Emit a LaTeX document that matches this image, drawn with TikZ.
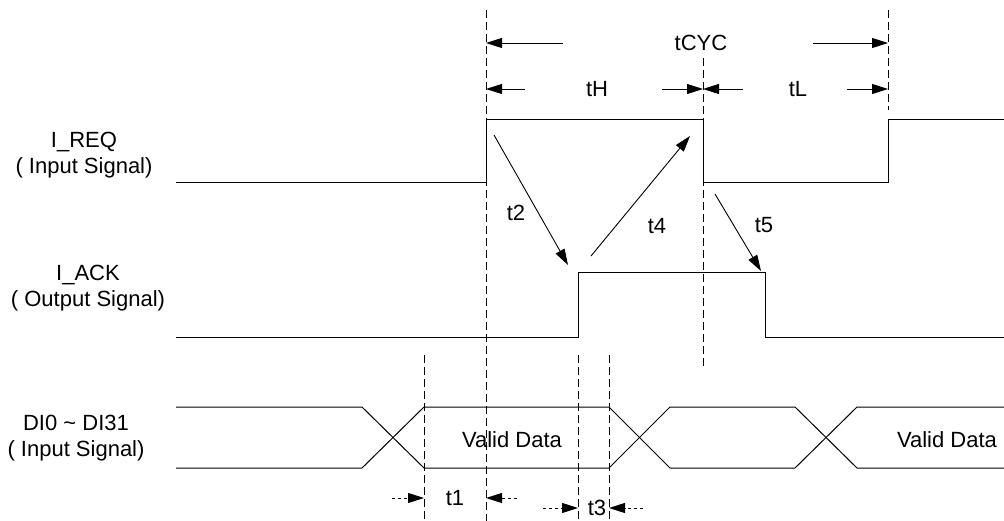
\documentclass[tikz,border=0pt]{standalone}
\usepackage{fontspec}
\setmainfont{Liberation Sans}
\usetikzlibrary{arrows.meta}
\begin{document}
\begin{tikzpicture}[x=1pt,y=-1pt,
  sig/.style={line width=1pt, line join=miter},
  guide/.style={line width=0.9pt, dash pattern=on 8pt off 4pt},
  dimarrow/.style={line width=0.9pt, -{Triangle[length=16pt,width=10pt]}},
  dimdot/.style={dimarrow, dash pattern=on 3pt off 3pt},
  lbl/.style={font=\fontsize{22}{25.5}\selectfont, inner sep=0pt},
  sname/.style={lbl, align=center}]
\useasboundingbox (0,0) rectangle (1004,521);

% signal names
\node[sname] (nreq) at (84,155) {I\_REQ\\( Input Signal)};
\node[sname] (nack) at (88,288) {I\_ACK\\( Output Signal)};
\node[sname] (ndat) at (76,438) {DI0 \textasciitilde{} DI31\\( Input Signal)};

% waveforms
\draw[sig] (176,183) -- (486,183) -- (486,120) -- (703,120) -- (703,183) -- (888,183) -- (888,120) -- (1004,120);
\draw[sig] (176,337) -- (578,337) -- (578,273) -- (765,273) -- (765,337) -- (1004,337);
\draw[sig] (176,407) -- (362,407) -- (424,468) -- (609,468) -- (670,407) -- (795,407) -- (857,468) -- (1004,468);
\draw[sig] (176,468) -- (362,468) -- (424,407) -- (609,407) -- (670,468) -- (795,468) -- (857,407) -- (1004,407);

% guide lines
\coordinate (ga1) at (486,10);  \coordinate (ga2) at (486,521);
\coordinate (gb1) at (703,58);  \coordinate (gb2) at (703,368);
\coordinate (gc1) at (888,10);  \coordinate (gc2) at (888,110);
\coordinate (gd1) at (424,355); \coordinate (gd2) at (424,521);
\coordinate (ge1) at (578,355); \coordinate (ge2) at (578,521);
\coordinate (gf1) at (609,355); \coordinate (gf2) at (609,521);
\draw[guide] (ga1) -- (ga2);
\draw[guide] (gb1) -- (gb2);
\draw[guide] (gc1) -- (gc2);
\draw[guide] (gd1) -- (gd2);
\draw[guide] (ge1) -- (ge2);
\draw[guide] (gf1) -- (gf2);

% tCYC
\node[lbl] (tcyc) at (701,43) {tCYC};
\coordinate (cyl) at (563,43); \coordinate (cylh) at (486,43);
\coordinate (cyr) at (813,43); \coordinate (cyrh) at (888,43);
\draw[dimarrow] (cyl) -- (cylh);
\draw[dimarrow] (cyr) -- (cyrh);

% tH, tL
\node[lbl] (th) at (597,89) {tH};
\node[lbl] (tl) at (798,89) {tL};
\coordinate (thl) at (525,89); \coordinate (thlh) at (486,89);
\coordinate (thr) at (662,89); \coordinate (thrh) at (703,89);
\coordinate (tll) at (743,89); \coordinate (tllh) at (703,89);
\coordinate (tlr) at (847,89); \coordinate (tlrh) at (888,89);
\draw[dimarrow] (thl) -- (thlh);
\draw[dimarrow] (thr) -- (thrh);
\draw[dimarrow] (tll) -- (tllh);
\draw[dimarrow] (tlr) -- (tlrh);

% t2, t4, t5
\coordinate (a2s) at (494,135); \coordinate (a2e) at (568,265);
\coordinate (a4s) at (591,256); \coordinate (a4e) at (690,136);
\coordinate (a5s) at (715,194); \coordinate (a5e) at (761,271);
\draw[dimarrow] (a2s) -- (a2e);
\draw[dimarrow] (a4s) -- (a4e);
\draw[dimarrow] (a5s) -- (a5e);
\node[lbl] (t2) at (516,213) {t2};
\node[lbl] (t4) at (657,226) {t4};
\node[lbl] (t5) at (764,225) {t5};

% t1, t3
\node[lbl] (t1) at (455,498) {t1};
\node[lbl] (t3) at (597,508) {t3};
\coordinate (t1l) at (392,498); \coordinate (t1lh) at (424,498);
\coordinate (t1r) at (517,498); \coordinate (t1rh) at (486,498);
\coordinate (t3l) at (543,508); \coordinate (t3lh) at (578,508);
\coordinate (t3r) at (643,508); \coordinate (t3rh) at (609,508);
\draw[dimdot] (t1l) -- (t1lh);
\draw[dimdot] (t1r) -- (t1rh);
\draw[dimdot] (t3l) -- (t3lh);
\draw[dimdot] (t3r) -- (t3rh);

% data labels
\node[lbl] (vd1) at (512,440) {Valid Data};
\node[lbl] (vd2) at (947,440) {Valid Data};
\end{tikzpicture}
\end{document}
